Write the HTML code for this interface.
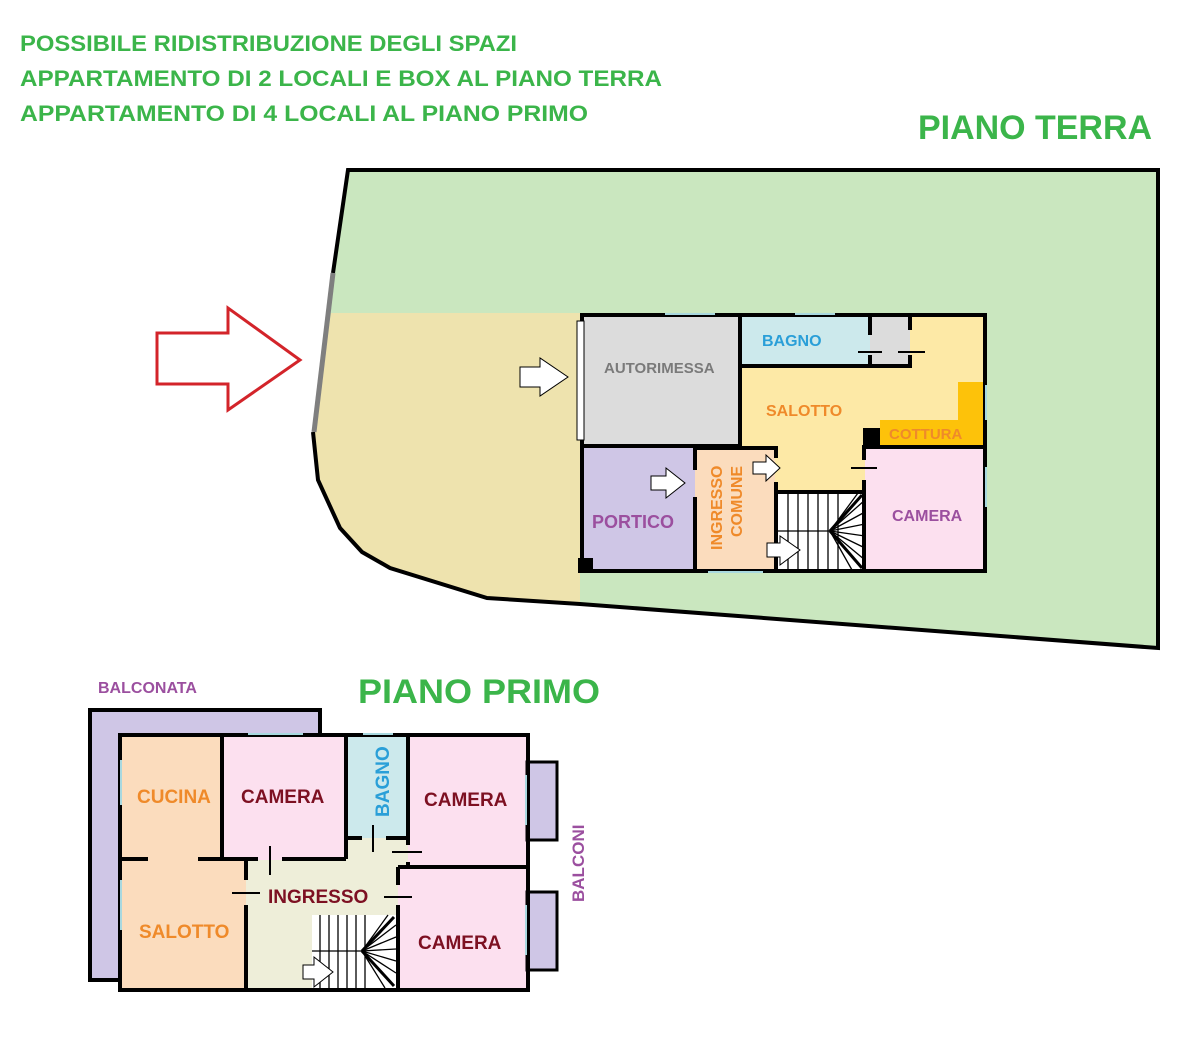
<!DOCTYPE html>
<html><head><meta charset="utf-8"><style>
html,body{margin:0;padding:0;background:#fff}
svg{display:block}
text{font-family:"Liberation Sans",sans-serif;font-weight:bold}
</style></head><body>
<svg width="1200" height="1038" viewBox="0 0 1200 1038" xmlns="http://www.w3.org/2000/svg">
<g fill="#3bb54a">
<text x="20" y="51" font-size="22" textLength="497" lengthAdjust="spacingAndGlyphs">POSSIBILE RIDISTRIBUZIONE DEGLI SPAZI</text>
<text x="20" y="86" font-size="22" textLength="642" lengthAdjust="spacingAndGlyphs">APPARTAMENTO DI 2 LOCALI E BOX AL PIANO TERRA</text>
<text x="20" y="121" font-size="22" textLength="568" lengthAdjust="spacingAndGlyphs">APPARTAMENTO DI 4 LOCALI AL PIANO PRIMO</text>
<text x="918" y="139" font-size="34" textLength="234" lengthAdjust="spacingAndGlyphs">PIANO TERRA</text>
<text x="625" y="258" font-size="34" textLength="177" lengthAdjust="spacingAndGlyphs">GIARDINO</text>
<text x="358" y="703" font-size="34" textLength="242" lengthAdjust="spacingAndGlyphs">PIANO PRIMO</text>
</g>
<!-- garden -->
<polygon points="348,170 1158,170 1158,648 580,604 487,598 390,568 362,552 340,528 318,480 313,432 333,273" fill="#cae7bf"/>
<polygon points="331,313 580,313 580,604 487,598 390,568 362,552 340,528 318,480 313,432" fill="#eee3ae"/>
<polyline points="333,273 348,170 1158,170 1158,648 580,604 487,598 390,568 362,552 340,528 318,480 313,432" fill="none" stroke="#000" stroke-width="4"/>
<line x1="333" y1="273" x2="314" y2="432" stroke="#7f7f7f" stroke-width="5"/>
<polygon points="157,333 228,333 228,308 300,360 228,410 228,384 157,384" fill="#fff" stroke="#d3242a" stroke-width="3"/>
<!-- ground floor rooms -->
<rect x="580" y="313" width="407" height="260" fill="#fde9a6"/>
<rect x="580" y="313" width="160" height="132" fill="#dcdcdc"/>
<rect x="740" y="313" width="130" height="52" fill="#cce9ec"/>
<rect x="870" y="313" width="40" height="52" fill="#dcdcdc"/>
<polygon points="880,420 958,420 958,382 983,382 983,445 880,445" fill="#fdc20a"/>
<rect x="863" y="428" width="17" height="18" fill="#000"/>
<rect x="865" y="447" width="120" height="123" fill="#fce0ef"/>
<rect x="580" y="447" width="115" height="125" fill="#cfc6e6"/>
<rect x="695" y="447" width="80" height="123" fill="#fbdcbd"/>
<rect x="778" y="493" width="87" height="77" fill="#fff"/>
<g stroke="#000" stroke-width="1.3">
<line x1="788" y1="493" x2="788" y2="570"/><line x1="798" y1="493" x2="798" y2="570"/><line x1="808" y1="493" x2="808" y2="570"/><line x1="818" y1="493" x2="818" y2="570"/><line x1="828" y1="493" x2="828" y2="570"/><line x1="838" y1="493" x2="838" y2="570"/>
<line x1="778" y1="531" x2="830" y2="531"/>
<line x1="830" y1="531" x2="865" y2="500"/><line x1="830" y1="531" x2="865" y2="512"/><line x1="830" y1="531" x2="865" y2="524"/><line x1="830" y1="531" x2="865" y2="536"/><line x1="830" y1="531" x2="865" y2="548"/><line x1="830" y1="531" x2="865" y2="560"/><line x1="830" y1="531" x2="852" y2="570"/><line x1="830" y1="531" x2="858" y2="493"/>
</g>
<line x1="830" y1="531" x2="862" y2="495" stroke="#000" stroke-width="3"/>
<line x1="830" y1="531" x2="862" y2="568" stroke="#000" stroke-width="3"/>
<g fill="none" stroke="#000" stroke-width="4">
<rect x="582" y="315" width="403" height="256"/>
<line x1="740" y1="315" x2="740" y2="447"/>
<line x1="582" y1="446" x2="740" y2="446"/>
<line x1="740" y1="366" x2="870" y2="366"/>
<polyline points="870,315 870,335"/><polyline points="870,355 870,366 910,366 910,355"/><line x1="910" y1="315" x2="910" y2="330"/>
<line x1="695" y1="448" x2="695" y2="470"/><line x1="695" y1="497" x2="695" y2="571"/>
<line x1="695" y1="448" x2="778" y2="448"/>
<line x1="776" y1="448" x2="776" y2="458"/><line x1="776" y1="482" x2="776" y2="571"/>
<line x1="776" y1="492" x2="865" y2="492"/>
<line x1="863" y1="447" x2="985" y2="447"/>
<line x1="864" y1="445" x2="864" y2="460"/><line x1="864" y1="480" x2="864" y2="571"/>
</g>
<g stroke="#000" stroke-width="2"><line x1="858" y1="352" x2="882" y2="352"/><line x1="898" y1="352" x2="925" y2="352"/><line x1="851" y1="468" x2="877" y2="468"/></g>
<rect x="577" y="321" width="7" height="119" fill="#fff" stroke="#000" stroke-width="1"/>
<rect x="578" y="558" width="15" height="15" fill="#000"/>
<g fill="#a8d8df"><rect x="665" y="313" width="50" height="2"/><rect x="795" y="313" width="40" height="2"/><rect x="985" y="385" width="2" height="35"/><rect x="985" y="467" width="2" height="40"/><rect x="708" y="571" width="55" height="2"/></g>
<g fill="#fff" stroke="#000" stroke-width="1">
<polygon points="520,367 540,367 540,358 568,377 540,396 540,387 520,387"/>
<polygon points="651,476 666,476 666,468 685,483 666,498 666,490 651,490"/>
<polygon points="753,462 766,462 766,455 780,468 766,481 766,474 753,474"/>
<polygon points="767,543 780,543 780,536 800,550 780,565 780,557 767,557"/>
</g>
<text x="604" y="373" font-size="15" fill="#7a7a7a">AUTORIMESSA</text>
<text x="762" y="346" font-size="16" fill="#2a9fd8">BAGNO</text>
<text x="766" y="416" font-size="16" fill="#ef8a2a">SALOTTO</text>
<text x="889" y="439" font-size="15" fill="#ef8a2a">COTTURA</text>
<text x="892" y="521" font-size="16" fill="#9b4f9f">CAMERA</text>
<text x="592" y="528" font-size="18" fill="#9b4f9f">PORTICO</text>
<text transform="translate(722,550) rotate(-90)" font-size="16" fill="#ef8a2a">INGRESSO</text>
<text transform="translate(742,537) rotate(-90)" font-size="16" fill="#ef8a2a">COMUNE</text>
<!-- first floor -->
<text x="98" y="693" font-size="16" fill="#9b4f9f">BALCONATA</text>
<polygon points="88,708 322,708 322,734 120,734 120,980 88,980" fill="#cfc6e6"/>
<polyline points="120,980 90,980 90,710 320,710 320,734" fill="none" stroke="#000" stroke-width="4"/>
<rect x="122" y="736" width="100" height="122" fill="#fbdcbd"/>
<rect x="122" y="858" width="124" height="130" fill="#fbdcbd"/>
<rect x="246" y="838" width="152" height="150" fill="#eeeed9"/>
<rect x="346" y="838" width="62" height="30" fill="#eeeed9"/>
<rect x="222" y="736" width="124" height="124" fill="#fce0ef"/>
<rect x="346" y="736" width="62" height="102" fill="#cce9ec"/>
<rect x="408" y="736" width="119" height="131" fill="#fce0ef"/>
<rect x="398" y="867" width="129" height="121" fill="#fce0ef"/>
<rect x="527" y="762" width="30" height="78" fill="#cfc6e6" stroke="#000" stroke-width="3"/>
<rect x="527" y="892" width="30" height="78" fill="#cfc6e6" stroke="#000" stroke-width="3"/>
<rect x="312" y="915" width="84" height="73" fill="#fff"/>
<g stroke="#000" stroke-width="1.3">
<line x1="320" y1="915" x2="320" y2="988"/><line x1="329" y1="915" x2="329" y2="988"/><line x1="338" y1="915" x2="338" y2="988"/><line x1="347" y1="915" x2="347" y2="988"/><line x1="356" y1="915" x2="356" y2="988"/><line x1="365" y1="915" x2="365" y2="988"/>
<line x1="312" y1="951" x2="362" y2="951"/>
<line x1="362" y1="951" x2="396" y2="925"/><line x1="362" y1="951" x2="396" y2="937"/><line x1="362" y1="951" x2="396" y2="949"/><line x1="362" y1="951" x2="396" y2="961"/><line x1="362" y1="951" x2="396" y2="973"/><line x1="362" y1="951" x2="385" y2="988"/><line x1="362" y1="951" x2="388" y2="915"/>
</g>
<line x1="362" y1="951" x2="394" y2="917" stroke="#000" stroke-width="3"/>
<line x1="362" y1="951" x2="394" y2="986" stroke="#000" stroke-width="3"/>
<g fill="none" stroke="#000" stroke-width="4">
<rect x="120" y="735" width="408" height="255"/>
<line x1="222" y1="735" x2="222" y2="860"/>
<line x1="120" y1="859" x2="148" y2="859"/><line x1="198" y1="859" x2="258" y2="859"/><line x1="282" y1="859" x2="346" y2="859"/>
<line x1="346" y1="735" x2="346" y2="859"/>
<line x1="346" y1="838" x2="362" y2="838"/><line x1="386" y1="838" x2="408" y2="838"/>
<line x1="408" y1="735" x2="408" y2="845"/><line x1="408" y1="862" x2="408" y2="868"/>
<line x1="398" y1="867" x2="528" y2="867"/>
<line x1="398" y1="867" x2="398" y2="885"/><line x1="398" y1="905" x2="398" y2="990"/>
<line x1="246" y1="859" x2="246" y2="880"/><line x1="246" y1="905" x2="246" y2="990"/>
</g>
<g stroke="#000" stroke-width="2"><line x1="270" y1="846" x2="270" y2="875"/><line x1="373" y1="825" x2="373" y2="852"/><line x1="392" y1="852" x2="422" y2="852"/><line x1="232" y1="893" x2="260" y2="893"/><line x1="384" y1="897" x2="412" y2="897"/></g>
<g fill="#a8d8df"><rect x="248" y="733" width="55" height="2"/><rect x="363" y="733" width="30" height="2"/><rect x="120" y="760" width="2" height="45"/><rect x="120" y="880" width="2" height="50"/><rect x="525" y="775" width="2" height="50"/><rect x="525" y="905" width="2" height="50"/></g>
<polygon points="303,965 314,965 314,957 333,972 314,987 314,979 303,979" fill="#fff" stroke="#000" stroke-width="1"/>
<text x="137" y="803" font-size="19" fill="#ef8a2a">CUCINA</text>
<text x="139" y="938" font-size="19" fill="#ef8a2a">SALOTTO</text>
<text x="241" y="803" font-size="19" fill="#7d1022">CAMERA</text>
<text x="424" y="806" font-size="19" fill="#7d1022">CAMERA</text>
<text x="418" y="949" font-size="19" fill="#7d1022">CAMERA</text>
<text x="268" y="903" font-size="19" fill="#7d1022">INGRESSO</text>
<text transform="translate(389,817) rotate(-90)" font-size="19" fill="#2a9fd8">BAGNO</text>
<text transform="translate(584,902) rotate(-90)" font-size="17" fill="#9b4f9f">BALCONI</text>
</svg>
</body></html>
